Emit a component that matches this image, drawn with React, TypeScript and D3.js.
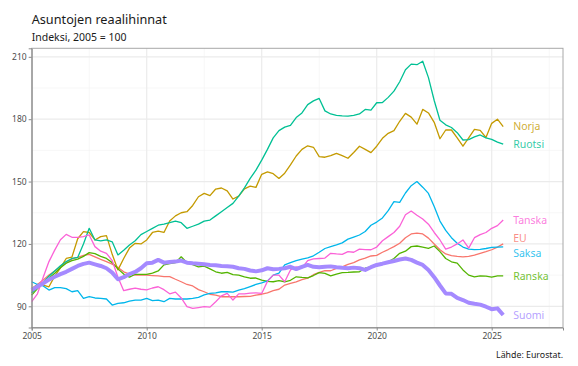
import { useEffect, useRef } from "react";
import * as d3 from "d3";

const W = 578;
const H = 366;
const START_YEAR = 2005;

// Series names and ggplot hue colours (alphabetical order)
const names = ["EU", "Norja", "Ranska", "Ruotsi", "Saksa", "Suomi", "Tanska"];
const colors = ["#F8766D", "#C49A00", "#53B400", "#00C094", "#00B6EB", "#A58AFF", "#FB61D7"];

// Quarterly index values, 2005Q1 ... 2025Q3 (one row per year)
const eu = [
  98, 100.5, 102.6, 105,  107, 109, 111, 112.8,  113.5, 114.5, 115, 113.8,  112.6, 111.5, 110.3, 108.7,
  106.6, 105.5, 105, 105,  105, 104.8, 104.6, 104.3,  104.3, 103, 101.8, 100.5,  99.8, 98, 97, 95.8,
  95.4, 94.6, 94.6, 94.6,  94.6, 94.7, 94.8, 95.4,  95.8, 96.5, 97.5, 98.2,  100.2, 101, 101.8, 102.8,
  103.5, 105.2, 106.3, 107.1,  107.1, 108.2, 109, 110.2,  111, 112.3, 113.2, 114.2,  114.5, 116, 117.3, 118.7,
  120.3, 123, 124.8, 125.2,  124.8, 122.8, 120, 117.2,  115.2, 114.4, 114, 113.8,  114, 114.6, 115.5, 116.3,
  117.2, 118.5, 120,
];
const norja = [
  98.5, 100.5, 100.2, 99.4,  104.5, 108.5, 113, 113.7,  122.5, 125.9, 125.5, 121.9,  123.5, 124, 115, 107.5,
  113, 118, 120.3, 120,  121.9, 125.5, 126.2, 125.5,  131, 133.5, 135, 135.5,  138.5, 142.7, 144.3, 143.2,
  146.4, 146.9, 145.5, 141.6,  143, 146.5, 147.8, 147.2,  153.5, 154.7, 153.8, 151.5,  154, 158, 162.3, 165.5,
  167.2, 166.5, 162, 161.7,  162.5, 163.6, 162.5, 161.2,  164, 167, 165.5, 163.9,  167, 170.8, 173.2, 174.5,
  179, 182.8, 181, 177.6,  184.7, 183, 178.5, 170.6,  174.8, 174.8, 171, 167,  171, 175.1, 174.6, 171.2,
  178, 180, 176.4,
];
const ranska = [
  95.4, 98.5, 101, 103.5,  105.9, 108.5, 110.7, 112,  112.7, 114, 115.8, 115.3,  114, 113, 111, 108,
  105.5, 104, 105.4, 105.4,  105.4, 106, 107, 109.9,  110.5, 111, 113.8, 111,  110, 109, 109.3, 108,
  106.6, 105.9, 106.3, 105.2,  105, 104.2, 103.5, 103.6,  102.6, 102, 101.8, 102.3,  101.8, 102.5, 104.2, 103.9,
  103.7, 104.8, 106.2, 105.8,  104.6, 105.5, 106.2, 106.3,  106.5, 106.6, 108.3, 109,  109.4, 110.5, 111.4, 113,
  115.5, 116.5, 118.7, 119,  118.5, 117.9, 119, 116.3,  113, 111.4, 110.8, 107.5,  105, 104.2, 104.6, 104.5,
  104, 104.6, 104.6,
];
const ruotsi = [
  96.5, 99, 101.5, 104.5,  107, 109.5, 111.5, 113,  113.5, 120, 127.5, 121.9,  121.5, 122, 121, 114.7,
  117, 119.5, 121.5, 124.5,  126, 127.5, 129, 129.5,  130.2, 131, 130.2, 127.5,  128.5, 129.5, 131, 131.5,
  133.5, 135.5, 137.5, 139.5,  143, 147, 151.5, 155.5,  160.3, 165.5, 171, 174.5,  176.2, 177, 180.8, 183,
  187, 188.8, 190, 184,  182.5, 181.8, 181.6, 181.5,  181.8, 182.5, 184.7, 184.4,  187.9, 188, 190.5, 193.5,
  198, 203.8, 206.5, 206.2,  207.9, 200, 189, 179.5,  177.3, 176, 173.5, 170,  170.2, 171.5, 172.4, 171,
  170.3, 169, 168,
];
const saksa = [
  101.8, 100.5, 99.8, 97.8,  99, 99, 98.5, 97,  97.5, 93.8, 94.6, 94,  93.8, 93.5, 90.6, 91.4,
  91.7, 92.5, 93, 93,  93.8, 92.7, 93, 92.2,  93.8, 93.5, 93.5, 93.5,  93.8, 94.3, 95.5, 96.2,
  96.5, 97, 97, 96.8,  97.8, 98.5, 99.5, 100.5,  101.3, 102.2, 105, 106,  109.9, 111, 112, 112.7,
  113.3, 114.3, 116, 117.8,  118.7, 119.5, 120.5, 122.3,  123.3, 124.3, 126, 129,  130.5, 132.5, 136, 140.3,
  140, 144.5, 148, 150,  147.3, 144.3, 138, 131,  126.5, 123, 120.3, 118.5,  117.5, 117.3, 117.4, 117.8,
  118.3, 118.5, 118.6,
];
const suomi = [
  97.8, 99.5, 101, 102.8,  104.2, 105.5, 106.6, 108,  109.4, 110.4, 111, 110.2,  109.4, 108.3, 106.2, 103,
  104, 105.5, 106.5, 108.3,  110.7, 111, 112.3, 111,  111.3, 111.5, 112, 111,  110.7, 110.5, 110.2, 109.9,
  109.7, 109.4, 109.3, 109,  108.3, 108, 107.2, 106.8,  107.3, 108.3, 107.8, 108,  108.3, 109, 107.9, 109,
  109.9, 109, 108.8, 109,  109.2, 108.8, 108.5, 108.3,  108.6, 108.3, 107.5, 108.8,  109.9, 110.5, 111.2, 111.8,
  112.5, 113, 112.3, 111,  109.9, 107.5, 104, 100,  96.2, 96, 94, 93,  91.7, 91.2, 90.8, 89.8,
  88.6, 89, 85.8,
];
const tanska = [
  92.2, 96, 104, 111.5,  117, 122, 124.6, 123.2,  123.2, 123.5, 124.3, 118.7,  116.5, 115.5, 112, 104,
  97.5, 98.2, 98.7, 98.2,  97.9, 98.8, 99.4, 98,  96, 96.8, 94, 89.8,  89, 89.4, 89.8, 89.6,
  92.2, 95, 96.2, 93,  96, 96, 96.3, 96.5,  96.2, 102, 105, 105,  101.8, 107.5, 109, 108.5,
  112, 112.8, 113, 113.2,  115.5, 115.2, 115, 116.3,  116, 117.5, 117.3, 117.2,  118.5, 121.5, 123.5, 125.5,
  128.5, 134, 135.8, 133.8,  132, 129.5, 125.5, 121.9,  117.5, 118.5, 120, 121.9,  118, 123, 124.5, 125.5,
  127.5, 128.8, 131.5,
];
const values = [eu, norja, ranska, ruotsi, saksa, suomi, tanska];

const yTicks = [90, 120, 150, 180, 210];
const yMinor = [105, 135, 165, 195];
const xTicks = [2005, 2010, 2015, 2020, 2025];
const xMinor = [2007.5, 2012.5, 2017.5, 2022.5, 2027.5];

const title = "Asuntojen reaalihinnat";
const subtitle = "Indeksi, 2005 = 100";
const caption = "Lähde: Eurostat.";

export default function App() {
  const svgRef = useRef<SVGSVGElement>(null);

  useEffect(() => {
    if (!svgRef.current) return;
    const root = d3.select(svgRef.current);
    root.selectAll("*").remove();

    const font = "'Noto Sans', sans-serif";
    const left = 31.7, right = 563, top = 48.3, bottom = 327.5;

    const x = d3.scaleLinear().domain([2005, 2028.1]).range([left, right]);
    const y = d3.scaleLinear().domain([79.8, 214.1]).range([bottom, top]);
    const t = (i: number) => START_YEAR + i / 4;

    // Grid
    const grid = root.append("g");
    grid.selectAll(".ym").data(yMinor).enter().append("line")
      .attr("x1", left).attr("x2", right)
      .attr("y1", d => y(d)).attr("y2", d => y(d))
      .attr("stroke", "#f3f3f3").attr("stroke-width", 0.7);
    grid.selectAll(".xm").data(xMinor).enter().append("line")
      .attr("y1", top).attr("y2", bottom)
      .attr("x1", d => x(d)).attr("x2", d => x(d))
      .attr("stroke", "#f3f3f3").attr("stroke-width", 0.7);
    grid.selectAll(".yM").data(yTicks).enter().append("line")
      .attr("x1", left).attr("x2", right)
      .attr("y1", d => y(d)).attr("y2", d => y(d))
      .attr("stroke", "#ebebeb").attr("stroke-width", 1.2);
    grid.selectAll(".xM").data(xTicks).enter().append("line")
      .attr("y1", top).attr("y2", bottom)
      .attr("x1", d => x(d)).attr("x2", d => x(d))
      .attr("stroke", "#ebebeb").attr("stroke-width", 1.2);

    // Panel border
    root.append("rect")
      .attr("x", left).attr("y", top)
      .attr("width", right - left).attr("height", bottom - top)
      .attr("fill", "none").attr("stroke", "#a8a8a8").attr("stroke-width", 1);

    // Lines (Suomi last, thick)
    const line = d3.line<number>().x((_, i) => x(t(i))).y(d => y(d));
    const order = [0, 1, 2, 3, 4, 6, 5];
    order.forEach(k => {
      root.append("path")
        .attr("d", line(values[k]) as string)
        .attr("fill", "none")
        .attr("stroke", colors[k])
        .attr("stroke-width", names[k] === "Suomi" ? 4 : 1.3)
        .attr("stroke-linejoin", "round");
    });

    // Axes
    const yAxis = d3.axisLeft(y).tickValues(yTicks).tickSize(3).tickPadding(2);
    const xAxis = d3.axisBottom(x).tickValues(xTicks).tickSize(3).tickPadding(2).tickFormat(d => String(d));
    const gy = root.append("g").attr("transform", `translate(${left},0)`).call(yAxis);
    const gx = root.append("g").attr("transform", `translate(0,${bottom})`).call(xAxis);
    [gy, gx].forEach(g => {
      g.select(".domain").attr("stroke", "#8a8a8a");
      g.selectAll(".tick line").attr("stroke", "#8a8a8a");
      g.selectAll("text").attr("fill", "#4d4d4d").style("font-size", "8.5px").style("font-family", font);
    });

    // Direct labels with a simple repel
    const gap = 15;
    const labs = names.map((n, k) => ({ n, k, y: y(values[k][values[k].length - 1]) }))
      .sort((a, b) => a.y - b.y);
    for (let it = 0; it < 60; it++) {
      for (let i = 1; i < labs.length; i++) {
        const diff = labs[i].y - labs[i - 1].y;
        if (diff < gap) {
          const s = (gap - diff) / 2;
          labs[i - 1].y -= s;
          labs[i].y += s;
        }
      }
    }
    const lastX = x(t(eu.length - 1)) + 10;
    root.selectAll(".lab").data(labs).enter().append("text")
      .attr("x", lastX).attr("y", d => d.y)
      .attr("dy", "0.35em")
      .attr("fill", d => colors[d.k])
      .attr("fill-opacity", 0.82)
      .style("font-family", font).style("font-size", "10.5px")
      .text(d => d.n);

    // Titles
    root.append("text").attr("x", left).attr("y", 24)
      .attr("fill", "#1a1a1a").style("font-family", font).style("font-size", "12.7px")
      .text(title);
    root.append("text").attr("x", left).attr("y", 40.5)
      .attr("fill", "#1a1a1a").style("font-family", font).style("font-size", "10.5px")
      .text(subtitle);
    root.append("text").attr("x", right).attr("y", 358)
      .attr("text-anchor", "end")
      .attr("fill", "#1a1a1a").style("font-family", font).style("font-size", "8.8px")
      .text(caption);
  }, []);

  return (
    <svg
      ref={svgRef}
      width={W}
      height={H}
      style={{ position: "absolute", left: 0, top: 0, background: "#fff" }}
    />
  );
}
